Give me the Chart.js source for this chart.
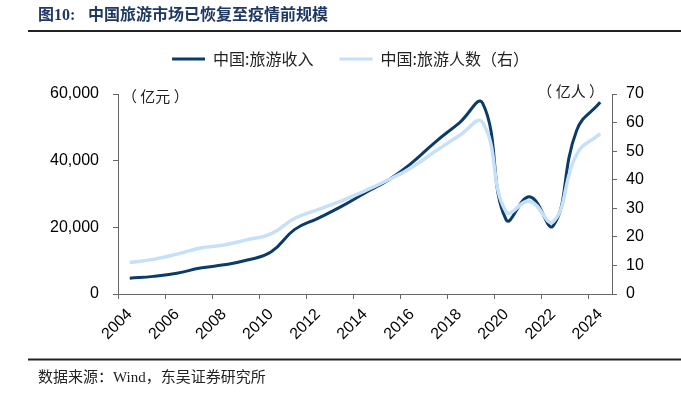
<!DOCTYPE html>
<html><head><meta charset="utf-8">
<script src="https://cdn.jsdelivr.net/npm/chart.js@4/dist/chart.umd.min.js"></script>
<style>html,body{margin:0;padding:0;background:#fff;}#wrap{width:681px;height:393px;position:relative}</style>
</head><body><div id="wrap"><canvas id="c" width="681" height="393"></canvas></div>
<script>
const years = ['2004','2005','2006','2007','2008','2009','2010','2011','2012','2013','2014','2015','2016','2017','2018','2019','2020','2021','2022','2023','2024'];
const revenue = [4711,5286,6230,7771,8749,10184,12580,19305,22706,26276,30312,34195,39390,45661,51278,57251,22286,29191,20444,49133,57500];
const tourists = [11.02,12.12,13.94,16.10,17.12,19.02,21.03,26.41,29.57,32.62,36.11,40.00,44.40,50.01,55.39,60.06,28.79,32.46,25.30,48.91,56.15];
const leftTicks = [0,20000,40000,60000];
const rightTicks = [0,10,20,30,40,50,60,70];
const seriesNames = ['中国:旅游收入','中国:旅游人数（右）'];
const titleText = '中国旅游市场已恢复至疫情前规模';
const sourceText = '数据来源：Wind，东吴证券研究所';

const DARK = '#0B3C68';
const LIGHT = '#C5E0F8';
const AXIS = '#666666';
const CJK = '"Noto Sans CJK SC"';
const SERIF = '"Liberation Serif","Noto Sans CJK SC"';

const deco = {
  id: 'deco',
  afterLayout(chart) {
    const lg = chart.legend;
    if (lg) { lg.left += 10; lg.right += 10; lg.top -= 17; lg.bottom -= 17; }
  },
  afterDraw(chart) {
    const ctx = chart.ctx, a = chart.chartArea;
    ctx.save();
    ctx.textBaseline = 'middle';
    ctx.fillStyle = '#1F3864';
    ctx.font = 'bold 16px ' + SERIF;
    ctx.fillText('图10:', 38, 16);
    ctx.fillText(titleText, 88, 16);
    ctx.strokeStyle = '#222';
    ctx.lineWidth = 2;
    ctx.beginPath(); ctx.moveTo(28, 31); ctx.lineTo(681, 31); ctx.stroke();
    ctx.beginPath(); ctx.moveTo(28, 359.5); ctx.lineTo(681, 359.5); ctx.stroke();
    ctx.fillStyle = '#222';
    ctx.font = '15px ' + SERIF;
    ctx.fillText(sourceText, 38, 378);
    ctx.font = '15px ' + CJK;
    ctx.textAlign = 'left';
    ctx.fillText('（ 亿元 ）', a.left + 4, a.top + 2);
    ctx.textAlign = 'right';
    ctx.fillText('（ 亿人 ）', a.right - 8, a.top - 3);
    ctx.restore();
  }
};

new Chart(document.getElementById('c'), {
  type: 'line',
  data: {
    labels: years,
    datasets: [
      { label: seriesNames[0], data: revenue, yAxisID: 'y', borderColor: DARK, backgroundColor: DARK, borderWidth: 3, pointRadius: 0, tension: 0.45, order: 1 },
      { label: seriesNames[1], data: tourists, yAxisID: 'y1', borderColor: LIGHT, backgroundColor: LIGHT, borderWidth: 3.5, pointRadius: 0, tension: 0.45, order: 0 }
    ]
  },
  options: {
    responsive: false,
    animation: false,
    devicePixelRatio: 1,
    layout: { padding: { top: 42, bottom: 45, left: 0, right: 0 } },
    plugins: {
      tooltip: { enabled: false },
      legend: {
        position: 'top',
        labels: {
          sort: (a, b) => a.datasetIndex - b.datasetIndex,
          boxWidth: 33, boxHeight: 3, padding: 26,
          color: '#222',
          font: { family: CJK, size: 16 },
          generateLabels(chart) {
            return chart.data.datasets.map((d, i) => ({
              text: d.label, fillStyle: d.borderColor, strokeStyle: d.borderColor,
              lineWidth: 0, hidden: false, datasetIndex: i, fontColor: '#222'
            }));
          }
        }
      }
    },
    scales: {
      x: {
        type: 'category',
        offset: true,
        afterFit(s) { s.height = 54; },
        border: { display: true, color: AXIS, width: 1 },
        grid: {
          offset: true, drawOnChartArea: false, drawTicks: true, tickLength: 5,
          tickColor: (c) => (c.index % 2 === 0 ? AXIS : 'rgba(0,0,0,0)'),
          color: (c) => (c.index % 2 === 0 ? AXIS : 'rgba(0,0,0,0)')
        },
        ticks: {
          autoSkip: false, minRotation: 45, maxRotation: 45, padding: 6,
          color: '#000', font: { family: '"Liberation Sans"', size: 16 },
          callback: function (v, i) { return i % 2 === 0 ? years[i] : ''; }
        }
      },
      y: {
        position: 'left', min: 0, max: 60000,
        afterFit(s) { s.width = 118; },
        afterBuildTicks(s) { s.ticks = leftTicks.map(v => ({ value: v })); },
        border: { display: true, color: AXIS, width: 1 },
        grid: { drawOnChartArea: false, drawTicks: true, tickLength: 5, tickColor: AXIS },
        ticks: {
          padding: 14, color: '#000', font: { family: '"Liberation Sans"', size: 16 },
          callback: (v) => v.toLocaleString('en-US')
        }
      },
      y1: {
        position: 'right', min: 0, max: 70,
        afterFit(s) { s.width = 69; },
        afterBuildTicks(s) { s.ticks = rightTicks.map(v => ({ value: v })); },
        border: { display: true, color: AXIS, width: 1 },
        grid: { drawOnChartArea: false, drawTicks: true, tickLength: 5, tickColor: AXIS },
        ticks: { padding: 9, color: '#000', font: { family: '"Liberation Sans"', size: 16 } }
      }
    }
  },
  plugins: [deco]
});
</script>
</body></html>
